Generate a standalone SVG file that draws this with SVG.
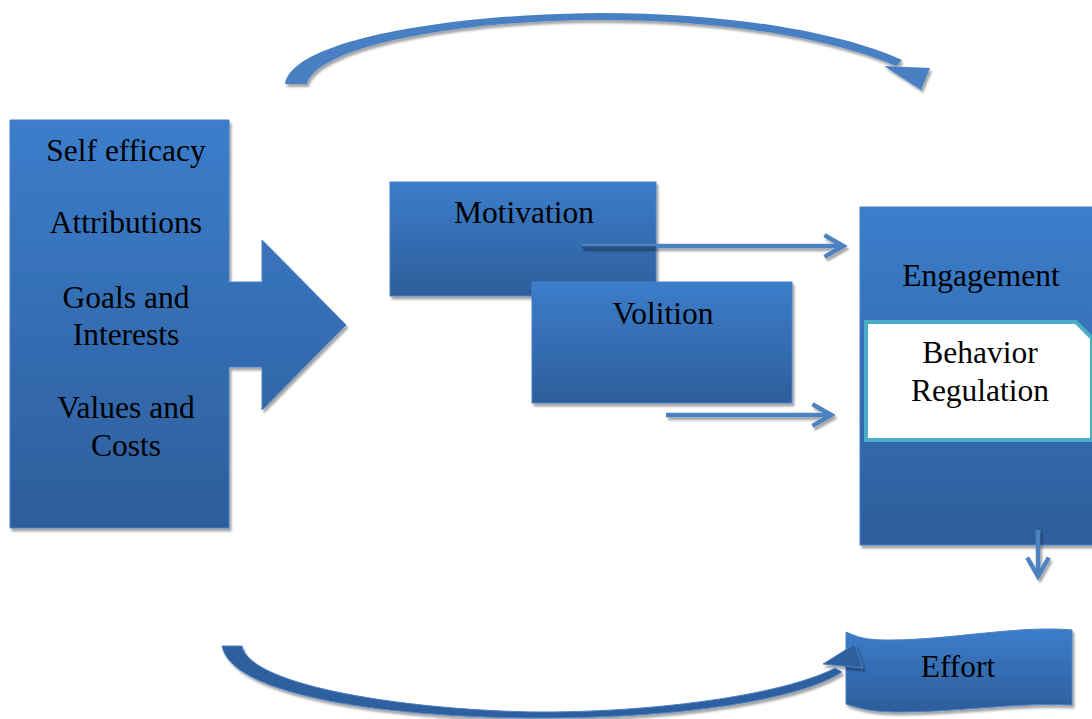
<svg xmlns="http://www.w3.org/2000/svg" width="1092" height="719" viewBox="0 0 1092 719">
<defs>
<linearGradient id="g" x1="0" y1="0" x2="0" y2="1">
<stop offset="0" stop-color="#3C7DCB"/>
<stop offset="1" stop-color="#2D5E9B"/>
</linearGradient>
<filter id="sh" filterUnits="userSpaceOnUse" x="0" y="0" width="1092" height="719">
<feDropShadow dx="2" dy="3" stdDeviation="1.2" flood-color="#000" flood-opacity="0.35"/>
</filter>
<marker id="ah" viewBox="0 0 10 10" refX="8" refY="5" markerWidth="6" markerHeight="6" orient="auto" markerUnits="strokeWidth">
<path d="M1.5 1 L8.5 5 L1.5 9" fill="none" stroke="#4E82C2" stroke-width="1.6"/>
</marker>
</defs>
<style>
.box{fill:url(#g);stroke:#4A80C4;stroke-width:1;filter:url(#sh)}
.t{font-family:"Liberation Serif","Times New Roman",serif;font-size:31.5px;fill:#000;text-anchor:middle}
.ln{stroke:#4E82C2;stroke-width:4.5;fill:none;filter:url(#sh)}
</style>
<rect width="1092" height="719" fill="#fff"/>

<g id="factors">
<path class="box" d="M10 120 H229 V282 H262 V240 L346 325 L262 410 V367 H229 V528 H10 Z"/>
<text class="t" x="126" y="161">Self efficacy</text>
<text class="t" x="126" y="233">Attributions</text>
<text class="t" x="126" y="308">Goals and</text>
<text class="t" x="126" y="345">Interests</text>
<text class="t" x="126" y="418">Values and</text>
<text class="t" x="126" y="456">Costs</text>
</g>

<g id="motivation">
<rect class="box" x="390" y="182" width="266" height="114"/>
<text class="t" x="524" y="223">Motivation</text>
</g>

<g id="volition">
<rect class="box" x="532" y="282" width="260" height="121"/>
<text class="t" x="663" y="324">Volition</text>
</g>

<g id="engagement">
<rect class="box" x="860" y="207" width="240" height="338"/>
<text class="t" x="981" y="286">Engagement</text>
</g>

<g id="behavior-regulation">
<path d="M866 322 H1076 L1092 338 V440 H866 Z" fill="#fff" stroke="#4BACC6" stroke-width="4"/>
<text class="t" x="980" y="363">Behavior</text>
<text class="t" x="980" y="401">Regulation</text>
</g>

<g id="effort">
<path class="box" d="M846 632 C860 638 866 640 890 640 C950 640 1020 625 1072 630 V705 C1020 702 960 712 900 712 C870 712 858 708 846 704 Z"/>
<text class="t" x="958" y="677">Effort</text>
</g>

<g id="connectors">
<path class="ln" d="M582 246 H842" marker-end="url(#ah)"/>
<path d="M582 247.5 H656" stroke="#24477A" stroke-width="2.5" opacity="0.85"/>
<path class="ln" d="M666 415 H830" marker-end="url(#ah)"/>
<path class="ln" d="M1038 530 V575" marker-end="url(#ah)"/>
<g id="top-curve" filter="url(#sh)">
<path d="M285 84 C292 40 450 14 600 13 C730 13 840 32 902 60 L896 66 C835 40 730 20 600 20 C465 20 318 45 307 84 Z" fill="#4A80C4"/>
<path d="M884 66 L930 68 L921 90 Z" fill="#4A80C4"/>
</g>
<g id="bottom-curve" filter="url(#sh)">
<path d="M222 646 H242 C250 688 420 711 540 712 C670 712 790 692 835 668 L842 672 C795 702 670 718 540 718 C400 718 232 698 222 646 Z" fill="#2E5F9E" stroke="#4A80C4" stroke-width="1"/>
<path d="M823 664 L855 644 L863 668 Z" fill="#2E5F9E" stroke="#4A80C4" stroke-width="1"/>
</g>
</g>
</svg>
